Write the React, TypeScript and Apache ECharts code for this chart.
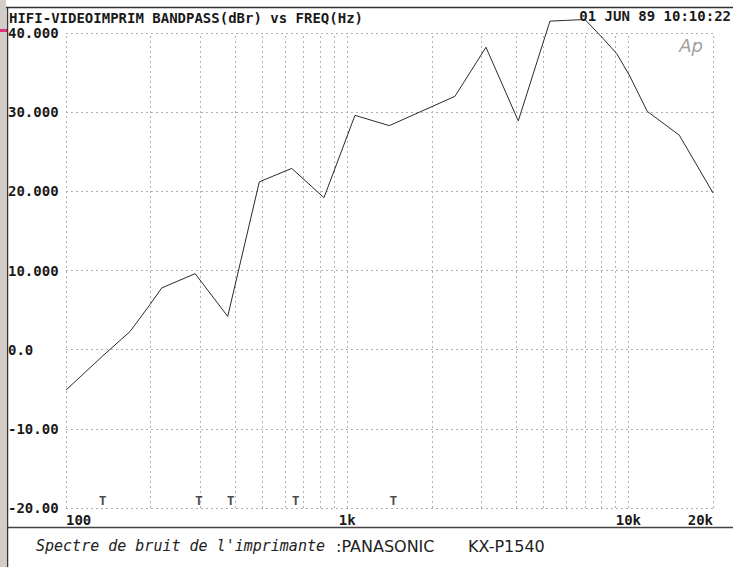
import React, { useEffect, useRef } from "react";
import * as echarts from "echarts";

const freqs = [100, 135, 169, 199, 219, 288, 376, 487, 635, 827, 1066, 1412, 2417, 3116, 4060, 5262, 6034, 7009, 8035, 9086, 10070, 11675, 15170, 20000];
const levels = [-5.1, -0.8, 2.3, 5.7, 7.8, 9.6, 4.2, 21.2, 22.9, 19.2, 29.6, 28.3, 32.0, 38.2, 28.9, 41.5, 41.6, 41.7, 39.5, 37.4, 34.7, 30.1, 27.1, 19.8];

const markerFreqs = [135, 297, 385, 656, 1459];
const markerLevel = -19.1;

const gridFreqs = [100, 200, 300, 400, 500, 600, 700, 800, 900, 1000, 2000, 3000, 4000, 5000, 6000, 7000, 8000, 9000, 10000, 20000];

const yLabels: Record<string, string> = {
  "40": "40.000",
  "30": "30.000",
  "20": "20.000",
  "10": "10.000",
  "0": "0.0",
  "-10": "-10.00",
  "-20": "-20.00",
};

const titleText = "HIFI-VIDEOIMPRIM BANDPASS(dBr) vs FREQ(Hz)";
const dateText = "01 JUN 89 10:10:22";
const captionA = "Spectre de bruit de l'imprimante";
const captionB = ":PANASONIC";
const captionC = "KX-P1540";

const MONO = "'DejaVu Sans Mono', 'Liberation Mono', monospace";

export default function App() {
  const ref = useRef<HTMLDivElement>(null);
  useEffect(() => {
    if (!ref.current) return;
    const chart = echarts.init(ref.current, undefined, { renderer: "svg" });
    const lineData = freqs.map((f, i) => [f, levels[i]]);
    chart.setOption({
      animation: false,
      backgroundColor: "#ffffff",
      grid: { left: 66, right: 20, top: 33, bottom: 59, containLabel: false },
      xAxis: {
        type: "log",
        logBase: 10,
        min: 100,
        max: 20000,
        axisLine: { show: false },
        axisTick: { show: false },
        splitLine: { show: false },
        axisLabel: {
          show: true,
          margin: 5,
          fontFamily: MONO,
          fontWeight: "bold",
          fontSize: 14,
          color: "#1a1a1a",
          alignMinLabel: "left",
          alignMaxLabel: "right",
          showMinLabel: true,
          showMaxLabel: true,
          formatter: (v: number) => {
            const r = Math.round(v);
            return r >= 1000 ? Math.round(r / 1000) + "k" : String(r);
          },
        },
      },
      yAxis: {
        type: "value",
        min: -20,
        max: 40,
        interval: 10,
        axisLine: { show: false },
        axisTick: { show: false },
        splitLine: { show: true, lineStyle: { type: [2, 3], color: "#b0b0b0", width: 1 } },
        axisLabel: {
          margin: 58,
          align: "left",
          fontFamily: MONO,
          fontWeight: "bold",
          fontSize: 14,
          color: "#1a1a1a",
          formatter: (v: number) => yLabels[String(Math.round(v))] ?? String(v),
        },
      },
      graphic: [
        { type: "rect", shape: { x: 0, y: 0, width: 6, height: 567 }, style: { fill: "#d2cdc8" }, silent: true },
        { type: "rect", shape: { x: 0, y: 29, width: 7, height: 3 }, style: { fill: "#e0307a" }, silent: true },
        { type: "line", shape: { x1: 6, y1: 7.5, x2: 733, y2: 7.5 }, style: { stroke: "#333", lineWidth: 1.5 }, silent: true },
        { type: "line", shape: { x1: 7.5, y1: 7, x2: 7.5, y2: 567 }, style: { stroke: "#333", lineWidth: 1.5 }, silent: true },
        { type: "line", shape: { x1: 7, y1: 527.5, x2: 733, y2: 527.5 }, style: { stroke: "#444", lineWidth: 1.5 }, silent: true },
        {
          type: "text",
          x: 9,
          y: 18,
          style: { text: titleText, font: `bold 14px ${MONO}`, fill: "#1a1a1a", textVerticalAlign: "middle", textAlign: "left" },
        },
        {
          type: "text",
          x: 731,
          y: 16,
          style: { text: dateText, font: `bold 14px ${MONO}`, fill: "#1a1a1a", textVerticalAlign: "middle", textAlign: "right" },
        },
        {
          type: "text",
          x: 703,
          y: 45,
          style: { text: "Ap", font: "italic 200 18px 'DejaVu Sans', sans-serif", fill: "#a0a0a0", textVerticalAlign: "middle", textAlign: "right" },
        },
        {
          type: "text",
          x: 36,
          y: 546,
          style: { text: captionA, font: `italic 15px ${MONO}`, fill: "#222", textVerticalAlign: "middle", textAlign: "left" },
        },
        {
          type: "text",
          x: 336,
          y: 546,
          style: { text: captionB, font: "16px 'DejaVu Sans', sans-serif", fill: "#222", textVerticalAlign: "middle", textAlign: "left" },
        },
        {
          type: "text",
          x: 468,
          y: 546,
          style: { text: captionC, font: "16px 'DejaVu Sans', sans-serif", fill: "#222", textVerticalAlign: "middle", textAlign: "left" },
        },
      ],
      series: [
        {
          type: "line",
          data: lineData,
          symbol: "none",
          clip: false,
          lineStyle: { color: "#2a2a2a", width: 1 },
          z: 5,
          markLine: {
            silent: true,
            symbol: "none",
            label: { show: false },
            lineStyle: { type: [2, 3], color: "#b0b0b0", width: 1 },
            data: gridFreqs.map((f) => ({ xAxis: f })),
          },
        },
        {
          type: "scatter",
          data: markerFreqs.map((f) => [f, markerLevel]),
          symbolSize: 1,
          itemStyle: { color: "rgba(0,0,0,0)" },
          label: {
            show: true,
            position: "inside",
            formatter: "T",
            fontFamily: MONO,
            fontWeight: "bold",
            fontSize: 13,
            color: "#1a1a1a",
          },
          z: 6,
        },
      ],
    });
    return () => chart.dispose();
  }, []);
  return <div ref={ref} style={{ position: "fixed", left: 0, top: 0, width: 733, height: 567 }} />;
}
